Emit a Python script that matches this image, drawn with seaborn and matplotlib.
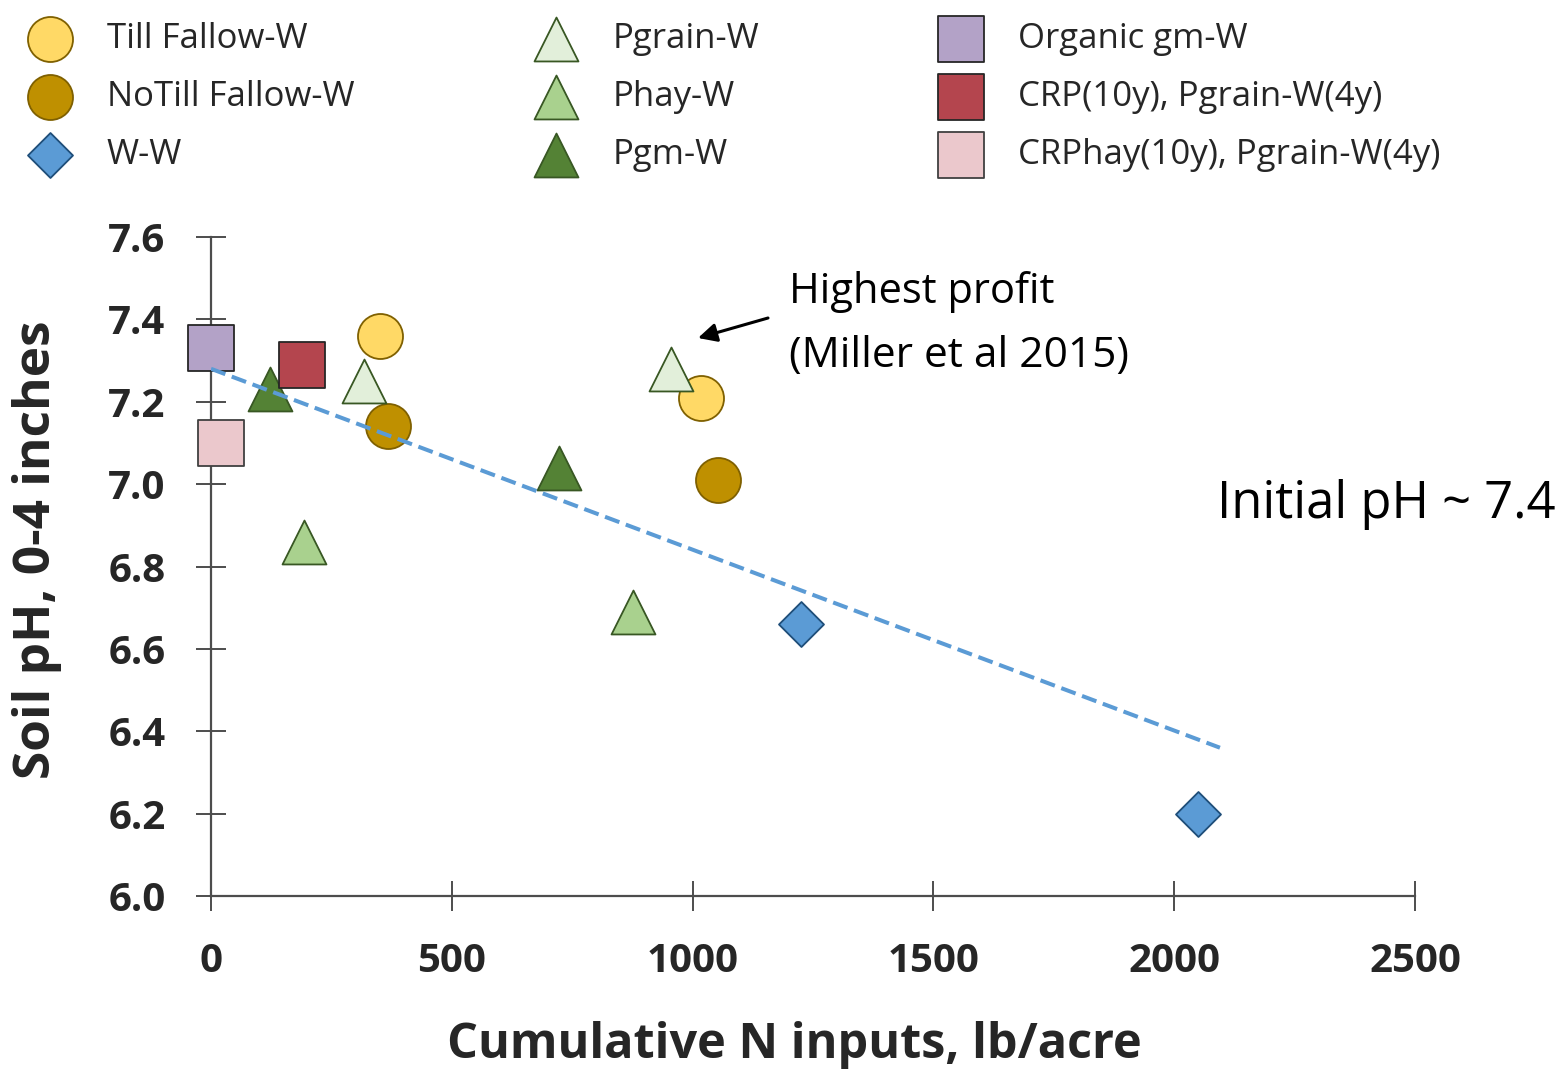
import matplotlib
matplotlib.use("Agg")
import matplotlib.pyplot as plt
from matplotlib.font_manager import FontProperties
import seaborn as sns

# ---- data -------------------------------------------------------------
series_names = [
    "Till Fallow-W", "NoTill Fallow-W", "W-W",
    "Pgrain-W", "Phay-W", "Pgm-W",
    "Organic gm-W", "CRP(10y), Pgrain-W(4y)", "CRPhay(10y), Pgrain-W(4y)",
]

till_fallow_x = [350, 1018]
till_fallow_y = [7.36, 7.21]
notill_fallow_x = [367, 1053]
notill_fallow_y = [7.14, 7.01]
ww_x = [1225, 2049]
ww_y = [6.66, 6.20]
pgrain_x = [317, 955]
pgrain_y = [7.25, 7.28]
phay_x = [193, 876]
phay_y = [6.86, 6.69]
pgm_x = [122, 722]
pgm_y = [7.23, 7.04]
organic_x = [0]
organic_y = [7.33]
crp_x = [189]
crp_y = [7.29]
crphay_x = [21]
crphay_y = [7.10]

# linear trend through the treatments (end points)
trend_x = [0, 2095]
trend_y = [7.28, 6.36]

x_ticks = [0, 500, 1000, 1500, 2000, 2500]
x_tick_labels = ["0", "500", "1000", "1500", "2000", "2500"]
y_ticks = [6.0, 6.2, 6.4, 6.6, 6.8, 7.0, 7.2, 7.4, 7.6]
y_tick_labels = ["6.0", "6.2", "6.4", "6.6", "6.8", "7.0", "7.2", "7.4", "7.6"]

xs = [till_fallow_x, notill_fallow_x, ww_x, pgrain_x, phay_x, pgm_x,
      organic_x, crp_x, crphay_x]
ys = [till_fallow_y, notill_fallow_y, ww_y, pgrain_y, phay_y, pgm_y,
      organic_y, crp_y, crphay_y]

# ---- marker styles ----------------------------------------------------
markers = ["o", "o", "D", "^", "^", "^", "s", "s", "s"]
faces = ["#FFD966", "#BF9000", "#5B9BD5", "#E2EFDA", "#A9D18E", "#548235",
         "#B3A2C7", "#B4454E", "#EBC8CC"]
edges = ["#7F6000", "#7F6000", "#1F4E79", "#385723", "#385723", "#385723",
         "#262626", "#262626", "#404040"]
sizes = [1050, 1050, 525, 1000, 1000, 1000, 1050, 1050, 1050]
layers = [3, 3, 3, 4, 4, 4, 4, 4, 4]

sns.set_style("ticks")
plt.rcParams["font.family"] = ["Open Sans", "DejaVu Sans"]

fig = plt.figure(figsize=(15.62, 10.69), dpi=100)
ax = fig.add_axes([211 / 1562, 1 - 896 / 1069, 1204 / 1562, 659 / 1069])

for name, x, y, m, fc, ec, s, z in zip(series_names, xs, ys, markers, faces,
                                       edges, sizes, layers):
    sns.scatterplot(x=x, y=y, ax=ax, marker=m, s=s, color=fc, edgecolor=ec,
                    linewidth=1.3, label=name, legend=False, clip_on=False,
                    zorder=z)

sns.lineplot(x=trend_x, y=trend_y, ax=ax, color="#5B9BD5", linewidth=2.9,
             linestyle=(0, (3.8, 1.7)), zorder=6, legend=False)

# ---- axes -------------------------------------------------------------
ax.set_xlim(0, 2500)
ax.set_ylim(6.0, 7.6)
sns.despine(ax=ax)
for side in ("left", "bottom"):
    ax.spines[side].set_color("#4D4D4D")
    ax.spines[side].set_linewidth(1.6)

ax.set_xticks(x_ticks)
ax.set_xticklabels(x_tick_labels)
ax.set_yticks(y_ticks)
ax.set_yticklabels(y_tick_labels)
ax.tick_params(axis="both", direction="inout", length=21.6, width=1.4,
               color="#4D4D4D", pad=22, bottom=True, left=True)
for lab in ax.get_xticklabels() + ax.get_yticklabels():
    lab.set_fontfamily("Open Sans")
    lab.set_fontweight("bold")
    lab.set_fontsize(29)
    lab.set_color("#262626")

ax.set_xlabel("Cumulative N inputs, lb/acre", fontsize=35, fontweight="bold",
              color="#262626", family="Open Sans")
ax.xaxis.label.set_va("baseline")
ax.xaxis.set_label_coords(0.4842, -0.2458)
ax.set_ylabel("Soil pH, 0-4 inches", fontsize=37, fontweight="bold",
              color="#262626", family="Open Sans")
ax.yaxis.label.set_va("baseline")
ax.yaxis.set_label_coords(-0.1337, 0.525)

# ---- annotations ------------------------------------------------------
fig.text(789 / 1562, 1 - 303 / 1069, "Highest profit", fontsize=30,
         va="baseline", ha="left", color="black")
fig.text(789 / 1562, 1 - 367 / 1069, "(Miller et al 2015)", fontsize=30.5,
         va="baseline", ha="left", color="black")
ax.annotate("", xy=(698 / 1562, 1 - 338 / 1069), xycoords="figure fraction",
            xytext=(768 / 1562, 1 - 318 / 1069), textcoords="figure fraction",
            arrowprops=dict(arrowstyle="-|>", color="black", lw=2.2,
                            mutation_scale=28, shrinkA=0, shrinkB=0))
fig.text(1556 / 1562, 1 - 518 / 1069, "Initial pH ~ 7.4", fontsize=36.5,
         va="baseline", ha="right", color="black")

# ---- legend -----------------------------------------------------------
handles, labels = ax.get_legend_handles_labels()
fig.legend(handles, labels, loc="upper left", bbox_to_anchor=(0.0141, 0.9797),
           ncol=3, frameon=False, prop=FontProperties(family="Open Sans", size=25),
           handlelength=1.6, handletextpad=0.84, columnspacing=5.0,
           labelspacing=0.69, borderpad=0, borderaxespad=0, scatterpoints=1)

fig.savefig("out.png", dpi=100)
